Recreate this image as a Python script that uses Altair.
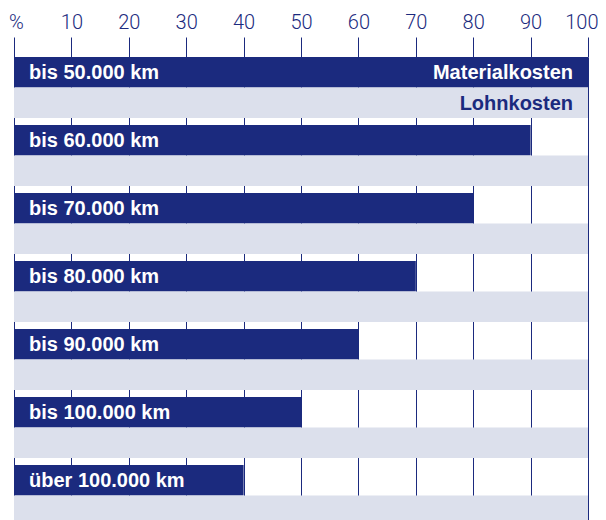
import altair as alt
import pandas as pd

categories = ["bis 50.000 km", "bis 60.000 km", "bis 70.000 km", "bis 80.000 km",
              "bis 90.000 km", "bis 100.000 km", "über 100.000 km"]
material = [100, 90, 80, 70, 60, 50, 40]
lohn = [100, 100, 100, 100, 100, 100, 100]
series = ["Materialkosten", "Lohnkosten"]
ticks = [0, 10, 20, 30, 40, 50, 60, 70, 80, 90, 100]

DARK = "#1b2a7e"
LIGHT = "#dce0ec"

rows = []
for c, m, l in zip(categories, material, lohn):
    rows.append({"cat": c, "series": series[0], "value": m})
    rows.append({"cat": c, "series": series[1], "value": l})
df = pd.DataFrame(rows)

labels_df = pd.DataFrame({"cat": categories, "series": series[0], "value": 0})
series_df = pd.DataFrame({"cat": categories[0], "series": series, "value": 100})

yenc = alt.Y("cat:N", sort=categories, axis=None,
             scale=alt.Scale(paddingInner=7 / 68, paddingOuter=0))
yoff = alt.YOffset("series:N", sort=series, scale=alt.Scale(paddingInner=0, paddingOuter=0))
xscale = alt.Scale(domain=[0, 100], nice=False, zero=True)

bars = alt.Chart(df).mark_bar(cornerRadius=0).encode(
    x=alt.X("value:Q", scale=xscale,
            axis=alt.Axis(orient="top", values=ticks, title=None, domain=False,
                          tickSize=20, tickColor=DARK, tickWidth=1,
                          grid=True, gridColor=DARK, gridOpacity=1, gridWidth=1,
                          labelColor=DARK, labelFont="Roboto", labelFontWeight=300,
                          labelFontSize=20, labelPadding=9, labelBaseline="alphabetic",
                          labelFlush=False,
                          labelAlign={"condition": {"test": "datum.value == 100", "value": "right"},
                                      "value": "center"},
                          labelOffset={"condition": [{"test": "datum.value == 100", "value": 10},
                                                     {"test": "datum.value == 0", "value": 2}],
                                       "value": 0},
                          labelExpr="datum.value == 0 ? '%' : datum.label")),
    y=yenc,
    yOffset=yoff,
    color=alt.Color("series:N", scale=alt.Scale(domain=series, range=[DARK, LIGHT]), legend=None),
)

cat_text = alt.Chart(labels_df).mark_text(
    align="left", baseline="middle", dx=15, dy=1, color="white",
    font="Liberation Sans", fontWeight="bold", fontSize=20
).encode(
    x=alt.X("value:Q", scale=xscale),
    y=yenc,
    yOffset=yoff,
    text="cat:N",
)

ser_text = alt.Chart(series_df).mark_text(
    align="right", baseline="middle", dx=-15, dy=1,
    font="Liberation Sans", fontWeight="bold", fontSize=20
).encode(
    x=alt.X("value:Q", scale=xscale),
    y=yenc,
    yOffset=yoff,
    text="series:N",
    color=alt.Color("series:N", scale=alt.Scale(domain=series, range=["white", DARK]), legend=None),
)

chart = alt.layer(bars, cat_text, ser_text).resolve_scale(color="independent").properties(
    width=574, height=469,
    autosize=alt.AutoSizeParams(type="none"),
    padding={"left": 6, "top": 49, "right": 10, "bottom": 0},
).configure_view(stroke=None)

chart.save("out.html", embed_options={"renderer": "svg", "actions": False})
